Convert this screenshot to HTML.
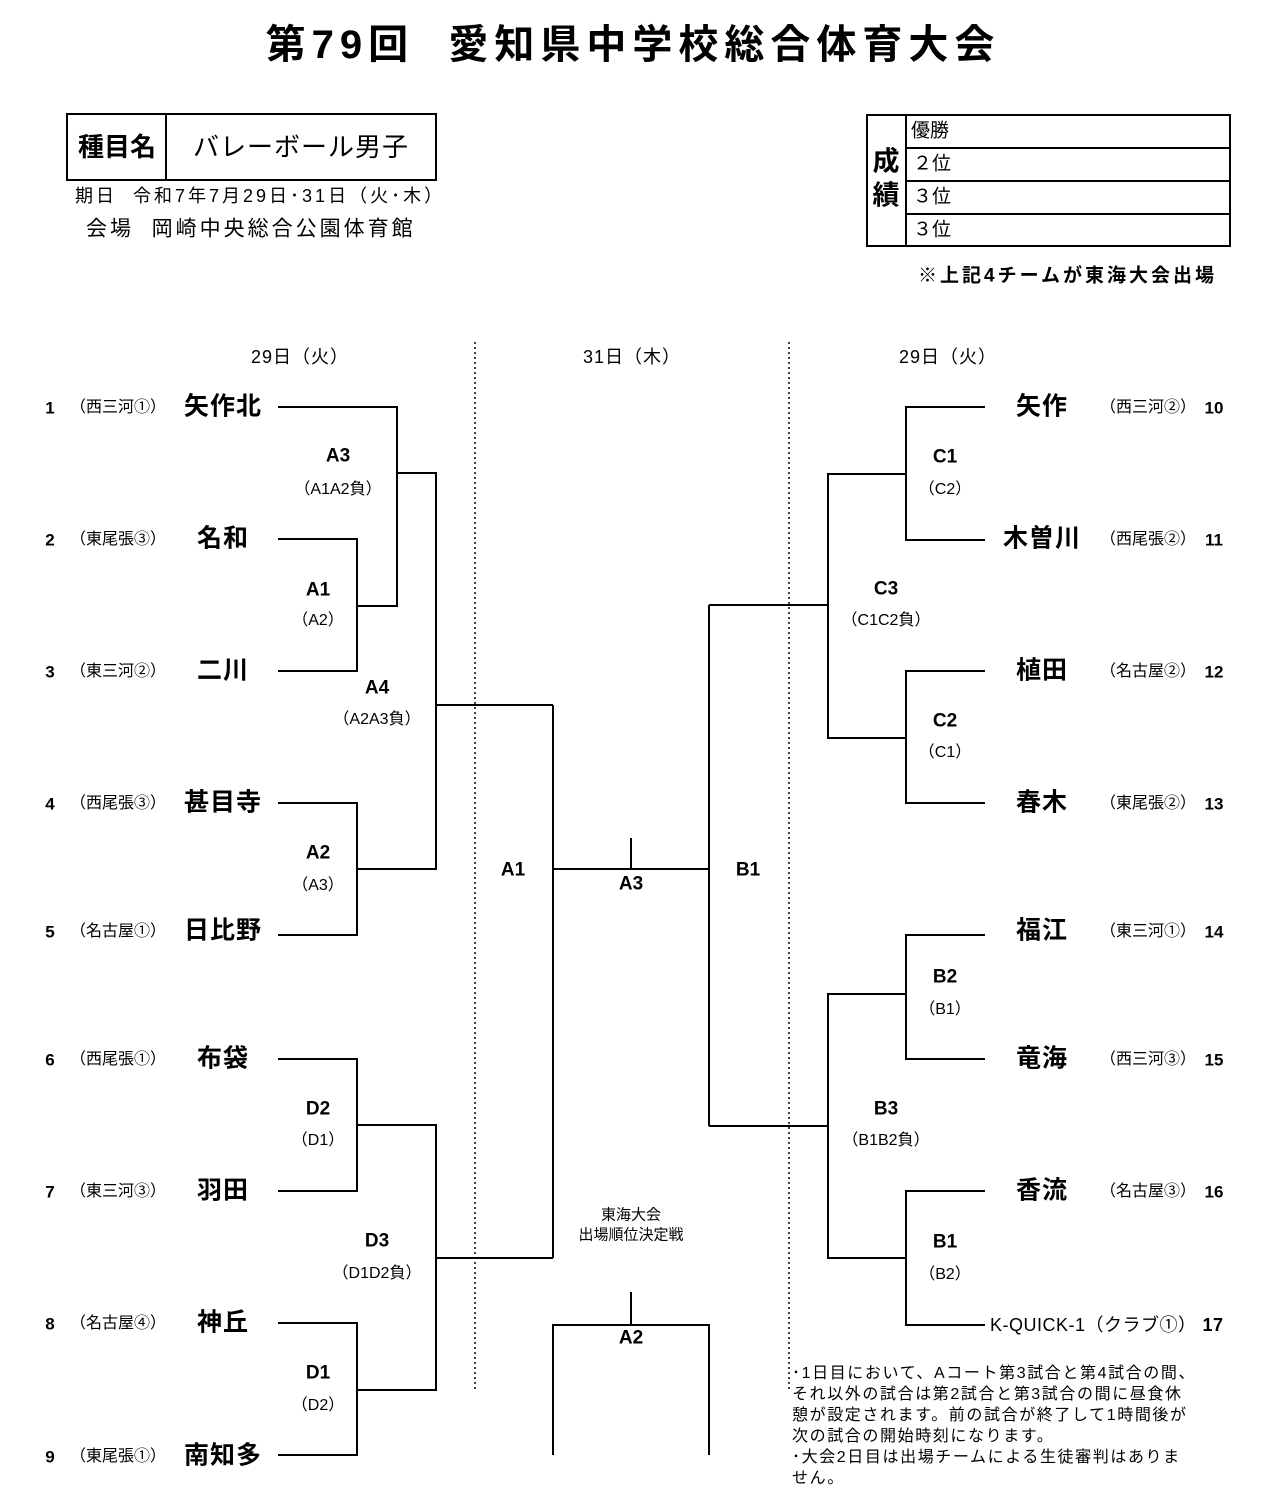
<!DOCTYPE html>
<html><head><meta charset="utf-8"><style>
body{margin:0;width:1265px;height:1500px;background:#fff;position:relative;font-family:"Liberation Sans","Noto Sans CJK JP",sans-serif;color:#000;overflow:hidden}
.t{position:absolute;white-space:nowrap;transform:translate(-50%,-50%);line-height:1}
.l{position:absolute;white-space:nowrap;line-height:1;transform:translateY(-50%)}
.tn{font-size:25px;font-weight:bold;letter-spacing:1px}
.rg{font-size:16px}
.nm{font-size:17px;font-weight:bold}
.lb{font-size:19px;font-weight:bold}
.sb{font-size:18px;letter-spacing:1px}
svg{position:absolute;left:0;top:0}
</style></head><body>
<svg width="1265" height="1500" stroke="#000" stroke-width="2" fill="none">
<rect x="67" y="114" width="369" height="66"/><line x1="166" y1="114" x2="166" y2="180"/>
<rect x="867" y="115" width="363" height="131"/><line x1="906" y1="115" x2="906" y2="246"/>
<line x1="906" y1="148" x2="1230" y2="148"/><line x1="906" y1="181" x2="1230" y2="181"/><line x1="906" y1="214" x2="1230" y2="214"/>
<line x1="475" y1="342" x2="475" y2="1390" stroke-dasharray="2,3" stroke-width="1.5"/>
<line x1="789" y1="342" x2="789" y2="1390" stroke-dasharray="2,3" stroke-width="1.5"/>
<polyline points="278,407 397,407 397,606 357,606"/>
<polyline points="278,539 357,539 357,671 278,671"/>
<polyline points="397,473 436,473 436,869 357,869"/>
<polyline points="278,803 357,803 357,935 278,935"/>
<line x1="436" y1="705" x2="553" y2="705"/>
<polyline points="278,1059 357,1059 357,1191 278,1191"/>
<polyline points="357,1125 436,1125 436,1390 357,1390"/>
<polyline points="278,1323 357,1323 357,1455 278,1455"/>
<line x1="436" y1="1258" x2="553" y2="1258"/>
<line x1="553" y1="705" x2="553" y2="1258"/>
<line x1="553" y1="869" x2="709" y2="869"/>
<line x1="631" y1="838" x2="631" y2="869"/>
<line x1="709" y1="605" x2="709" y2="1126"/>
<polyline points="553,1455 553,1325 709,1325 709,1455"/>
<line x1="631" y1="1292" x2="631" y2="1325"/>
<line x1="709" y1="605" x2="828" y2="605"/>
<polyline points="906,474 828,474 828,738 906,738"/>
<polyline points="985,407 906,407 906,540 985,540"/>
<polyline points="985,671 906,671 906,803 985,803"/>
<line x1="709" y1="1126" x2="828" y2="1126"/>
<polyline points="906,994 828,994 828,1258 906,1258"/>
<polyline points="985,935 906,935 906,1059 985,1059"/>
<polyline points="985,1191 906,1191 906,1325 985,1325"/>
</svg>
<div class="t" style="left:633px;top:45px;font-size:40px;font-weight:bold;letter-spacing:6px">第79回&nbsp;&nbsp;愛知県中学校総合体育大会</div>
<div class="t" style="left:117px;top:147px;font-size:26px;font-weight:bold">種目名</div>
<div class="t" style="left:301px;top:147px;font-size:26px;letter-spacing:1px">バレーボール男子</div>
<div class="l" style="left:75px;top:196px;font-size:18px;letter-spacing:3px">期日&nbsp;&nbsp;令和7年7月29日･31日（火･木）</div>
<div class="l" style="left:86px;top:229px;font-size:21px;letter-spacing:3px">会場&nbsp;&nbsp;岡崎中央総合公園体育館</div>
<div class="t" style="left:886px;top:162px;font-size:27px;font-weight:bold">成</div>
<div class="t" style="left:886px;top:196px;font-size:27px;font-weight:bold">績</div>
<div class="l" style="left:911px;top:131px;font-size:19px">優勝</div>
<div class="l" style="left:913px;top:164px;font-size:19px">２位</div>
<div class="l" style="left:913px;top:197px;font-size:19px">３位</div>
<div class="l" style="left:913px;top:230px;font-size:19px">３位</div>
<div class="l" style="left:918px;top:276px;font-size:19px;letter-spacing:3px;font-weight:bold">※上記4チームが東海大会出場</div>
<div class="t sb" style="left:300px;top:357px">29日（火）</div>
<div class="t sb" style="left:632px;top:357px">31日（木）</div>
<div class="t sb" style="left:948px;top:357px">29日（火）</div>

<div class="t nm" style="left:50px;top:408px">1</div><div class="t rg" style="left:118px;top:408px">（西三河①）</div><div class="t tn" style="left:223px;top:407px">矢作北</div>
<div class="t nm" style="left:50px;top:540px">2</div><div class="t rg" style="left:118px;top:540px">（東尾張③）</div><div class="t tn" style="left:223px;top:539px">名和</div>
<div class="t nm" style="left:50px;top:672px">3</div><div class="t rg" style="left:118px;top:672px">（東三河②）</div><div class="t tn" style="left:223px;top:671px">二川</div>
<div class="t nm" style="left:50px;top:804px">4</div><div class="t rg" style="left:118px;top:804px">（西尾張③）</div><div class="t tn" style="left:223px;top:803px">甚目寺</div>
<div class="t nm" style="left:50px;top:932px">5</div><div class="t rg" style="left:118px;top:932px">（名古屋①）</div><div class="t tn" style="left:223px;top:931px">日比野</div>
<div class="t nm" style="left:50px;top:1060px">6</div><div class="t rg" style="left:118px;top:1060px">（西尾張①）</div><div class="t tn" style="left:223px;top:1059px">布袋</div>
<div class="t nm" style="left:50px;top:1192px">7</div><div class="t rg" style="left:118px;top:1192px">（東三河③）</div><div class="t tn" style="left:223px;top:1191px">羽田</div>
<div class="t nm" style="left:50px;top:1324px">8</div><div class="t rg" style="left:118px;top:1324px">（名古屋④）</div><div class="t tn" style="left:223px;top:1323px">神丘</div>
<div class="t nm" style="left:50px;top:1457px">9</div><div class="t rg" style="left:118px;top:1457px">（東尾張①）</div><div class="t tn" style="left:223px;top:1456px">南知多</div>

<div class="t tn" style="left:1042px;top:407px">矢作</div><div class="t rg" style="left:1148px;top:408px">（西三河②）</div><div class="t nm" style="left:1214px;top:408px">10</div>
<div class="t tn" style="left:1042px;top:539px">木曽川</div><div class="t rg" style="left:1148px;top:540px">（西尾張②）</div><div class="t nm" style="left:1214px;top:540px">11</div>
<div class="t tn" style="left:1042px;top:671px">植田</div><div class="t rg" style="left:1148px;top:672px">（名古屋②）</div><div class="t nm" style="left:1214px;top:672px">12</div>
<div class="t tn" style="left:1042px;top:803px">春木</div><div class="t rg" style="left:1148px;top:804px">（東尾張②）</div><div class="t nm" style="left:1214px;top:804px">13</div>
<div class="t tn" style="left:1042px;top:931px">福江</div><div class="t rg" style="left:1148px;top:932px">（東三河①）</div><div class="t nm" style="left:1214px;top:932px">14</div>
<div class="t tn" style="left:1042px;top:1059px">竜海</div><div class="t rg" style="left:1148px;top:1060px">（西三河③）</div><div class="t nm" style="left:1214px;top:1060px">15</div>
<div class="t tn" style="left:1042px;top:1191px">香流</div><div class="t rg" style="left:1148px;top:1192px">（名古屋③）</div><div class="t nm" style="left:1214px;top:1192px">16</div>
<div class="l" style="left:990px;top:1325px;font-size:18px;letter-spacing:0.5px">K-QUICK-1（クラブ①）<b style="margin-left:6px">17</b></div>

<div class="t lb" style="left:338px;top:456px">A3</div><div class="t rg" style="left:338px;top:490px">（A1A2負）</div>
<div class="t lb" style="left:318px;top:590px">A1</div><div class="t rg" style="left:318px;top:621px">（A2）</div>
<div class="t lb" style="left:377px;top:688px">A4</div><div class="t rg" style="left:377px;top:720px">（A2A3負）</div>
<div class="t lb" style="left:318px;top:853px">A2</div><div class="t rg" style="left:318px;top:886px">（A3）</div>
<div class="t lb" style="left:318px;top:1109px">D2</div><div class="t rg" style="left:318px;top:1141px">（D1）</div>
<div class="t lb" style="left:377px;top:1241px">D3</div><div class="t rg" style="left:377px;top:1274px">（D1D2負）</div>
<div class="t lb" style="left:318px;top:1373px">D1</div><div class="t rg" style="left:318px;top:1406px">（D2）</div>
<div class="t lb" style="left:513px;top:870px">A1</div>
<div class="t lb" style="left:631px;top:884px">A3</div>
<div class="t lb" style="left:748px;top:870px">B1</div>
<div class="t lb" style="left:631px;top:1338px">A2</div>
<div class="t" style="left:631px;top:1215px;font-size:15px">東海大会</div>
<div class="t" style="left:631px;top:1235px;font-size:15px">出場順位決定戦</div>
<div class="t lb" style="left:945px;top:457px">C1</div><div class="t rg" style="left:945px;top:490px">（C2）</div>
<div class="t lb" style="left:886px;top:589px">C3</div><div class="t rg" style="left:886px;top:621px">（C1C2負）</div>
<div class="t lb" style="left:945px;top:721px">C2</div><div class="t rg" style="left:945px;top:753px">（C1）</div>
<div class="t lb" style="left:945px;top:977px">B2</div><div class="t rg" style="left:945px;top:1010px">（B1）</div>
<div class="t lb" style="left:886px;top:1109px">B3</div><div class="t rg" style="left:886px;top:1141px">（B1B2負）</div>
<div class="t lb" style="left:945px;top:1242px">B1</div><div class="t rg" style="left:945px;top:1275px">（B2）</div>

<div style="position:absolute;left:792px;top:1363px;width:440px;font-size:16px;line-height:21px;letter-spacing:1.6px;white-space:nowrap">･1日目において、Aコート第3試合と第4試合の間、<br>それ以外の試合は第2試合と第3試合の間に昼食休<br>憩が設定されます。前の試合が終了して1時間後が<br>次の試合の開始時刻になります。<br>･大会2日目は出場チームによる生徒審判はありま<br>せん。</div>
</body></html>
